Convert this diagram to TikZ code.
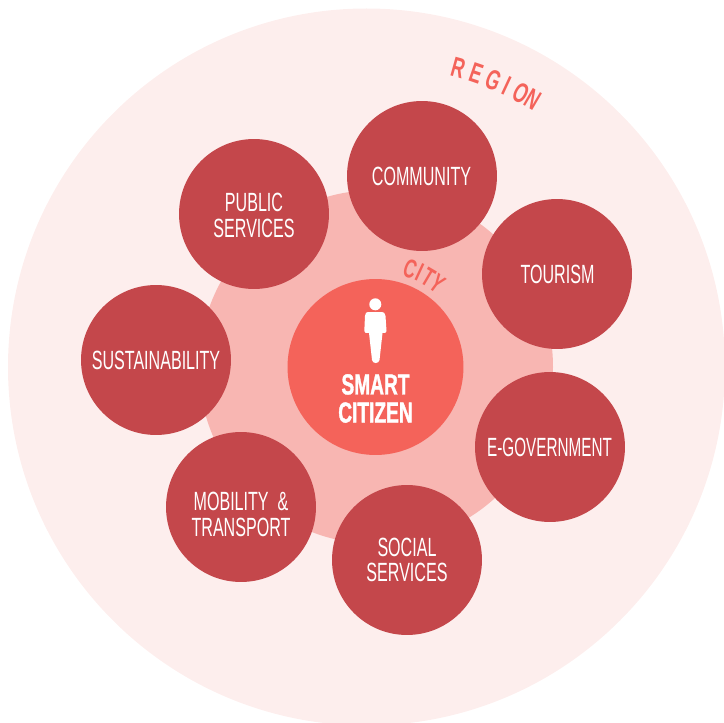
\documentclass[tikz,border=0pt]{standalone}
\usepackage{fontspec}
\setmainfont{Liberation Sans}
\newfontfamily\condfont[FakeStretch=0.61]{Liberation Sans}
\newfontfamily\boldfont[FakeStretch=0.66,BoldFont={Liberation Sans Bold},BoldFeatures={FakeBold=1.2}]{Liberation Sans}
\newfontfamily\letterfont[FakeStretch=0.64,BoldFont={Liberation Sans Bold}]{Liberation Sans}
\usepackage{tikz}
\usetikzlibrary{shapes,positioning}

\definecolor{regionpink}{HTML}{FDEEED}
\definecolor{citypink}{HTML}{F8B6B2}
\definecolor{sectorred}{HTML}{C4474B}
\definecolor{citizenred}{HTML}{F4635A}

\tikzset{
  sector/.style={circle,fill=sectorred,minimum size=3cm,inner sep=0pt},
  sectortext/.style={text=white,inner sep=0pt,align=center,font=\condfont\fontsize{15}{15}\selectfont},
  bigletter/.style={text=citizenred,inner sep=0pt,font=\letterfont\bfseries\fontsize{16}{16}\selectfont},
}

\begin{document}
\begin{tikzpicture}[x=0.02cm,y=-0.02cm]
\useasboundingbox (0,0) rectangle (724,723);
\begin{scope}
\clip (0,0) rectangle (724,723);
\fill[regionpink] (366.5,367) circle (358.5);
\end{scope}
\fill[citypink] (376,367) circle (177);
\node[circle,fill=citizenred,minimum size=3.52cm,inner sep=0pt] (citizen) at (375.5,367) {};

% person
\fill[white] (375.3,304.3) circle (6);
\fill[white] (368,312) -- (382,312) .. controls (384,312) and (385,313) .. (385.5,316)
  -- (386.5,331) .. controls (386.5,333) and (385,333) .. (382.5,333)
  -- (379.5,360) .. controls (379,364) and (372.5,364) .. (372,360)
  -- (369,333) .. controls (366,333) and (364,333) .. (364.3,331)
  -- (365,316) .. controls (365.5,313) and (366,312) .. (368,312) -- cycle;

\node[text=white,align=center,font=\boldfont\bfseries\fontsize{16.5}{16.5}\selectfont] (smart) at (375.5,398.5) {SMART\\[-0.5pt]CITIZEN};

\node[sector] (community) at (422,176) {};
\node[sector] (tourism) at (557,274) {};
\node[sector] (egov) at (550,447) {};
\node[sector] (social) at (407,560) {};
\node[sector] (mobility) at (241,507) {};
\node[sector] (sustain) at (156,360) {};
\node[sector] (public) at (254,214) {};

\node[sectortext] (communitytext) at (421.5,176) {COMMUNITY};
\node[sectortext] (tourismtext) at (557.5,274) {TOURISM};
\node[sectortext] (egovtext) at (549.5,447) {\scalebox{0.95}[1]{E-GOVERNMENT}};
\node[sectortext] (socialtext) at (407,560) {SOCIAL\\[-0.5pt]SERVICES};
\node[sectortext] (mobilitytext) at (241,514.5) {MOBILITY\ \ \&\\[-0.5pt]TRANSPORT};
\node[sectortext] (sustaintext) at (156,360) {SUSTAINABILITY};
\node[sectortext] (publictext) at (254,215.5) {PUBLIC\\[-0.5pt]SERVICES};

% letters on the arcs
\foreach \ltr/\ang/\nm in {R/15.6/r1,E/19/r2,G/22.4/r3,I/25/r4,O/27.9/r5,N/30.4/r6}
  \node[bigletter,rotate=-\ang] (\nm) at ({373+317*sin(\ang)},{373-317*cos(\ang)}) {\ltr};
\foreach \ltr/\ang/\nm in {C/19.5/c1,I/25/c2,T/30.5/c3,Y/36.5/c4}
  \node[bigletter,rotate=-\ang,font=\letterfont\bfseries\fontsize{15}{15}\selectfont] (\nm) at ({375.5+104*sin(\ang)},{367-104*cos(\ang)}) {\ltr};
\end{tikzpicture}
\end{document}
